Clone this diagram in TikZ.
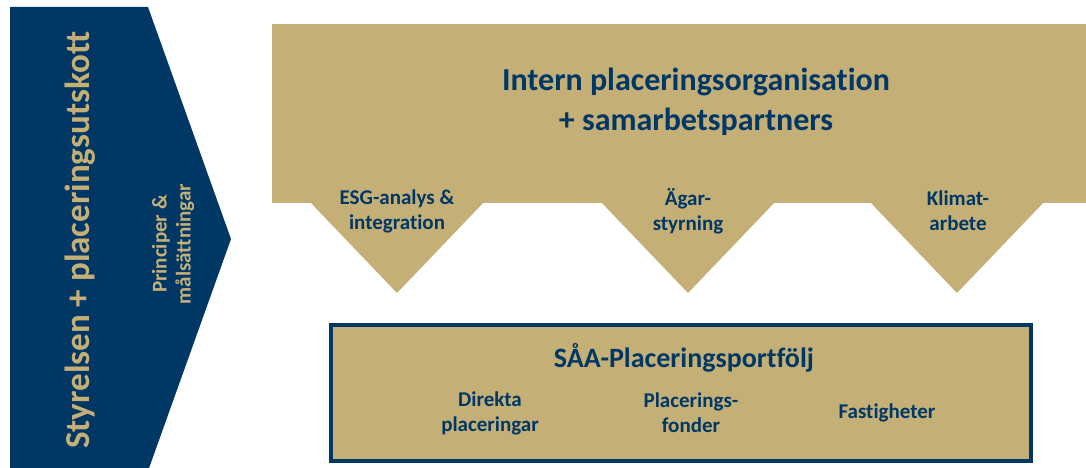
\documentclass[tikz,border=0pt]{standalone}
\usepackage{fontspec}
\setmainfont{Carlito}[Ligatures=NoCommon]
\usepackage{tikz}
\usetikzlibrary{positioning}
\definecolor{navy}{RGB}{0,55,100}
\definecolor{gold}{RGB}{196,176,119}

\begin{document}
\begin{tikzpicture}[x=1pt, y=-1pt,
    heading/.style={text=navy, align=center, font=\bfseries\fontsize{32}{40}\selectfont},
    item/.style={text=navy, align=center, font=\bfseries\fontsize{21}{25}\selectfont},
    sideways/.style={rotate=90, text=gold, align=center}]
    \useasboundingbox (0,0) rectangle (1086,468);
    % Board arrow on the left
    \fill[navy] (10,7) -- (148,7) -- (231,239) -- (148,471) -- (10,471) -- cycle;
    \node[sideways, font=\bfseries\fontsize{35}{40}\selectfont] (board) at (80,240) {Styrelsen + placeringsutskott};
    \node[sideways, font=\bfseries\fontsize{21}{24}\selectfont] (princ) at (173,244) {Principer \&\\målsättningar};
    % Organisation banner with three points
    \fill[gold] (272,24) rectangle (1090,203);
    \foreach \t in {397,688,957}
        \fill[gold] (\t-88,201) -- (\t,293) -- (\t+88,201) -- cycle;
    \node[heading] (org) at (696,102) {Intern placeringsorganisation\\+ samarbetspartners};
    \node[item] (esg) at (397,211) {ESG-analys \&\\integration};
    \node[item] (owner) at (688,211) {Ägar-\\styrning};
    \node[item] (climate) at (958,211) {Klimat-\\arbete};
    % Portfolio box
    \node[draw=navy, line width=4pt, fill=gold, minimum width=700, minimum height=136, inner sep=0] (port) at (681,393) {};
    \node[heading, font=\bfseries\fontsize{28}{32}\selectfont] (saa) at (684,358) {SÅA-Placeringsportfölj};
    \node[item] (direct) at (490,413) {Direkta\\placeringar};
    \node[item] (funds) at (691,413) {Placerings-\\fonder};
    \node[item] (estate) at (887,413) {Fastigheter};
\end{tikzpicture}
\end{document}
